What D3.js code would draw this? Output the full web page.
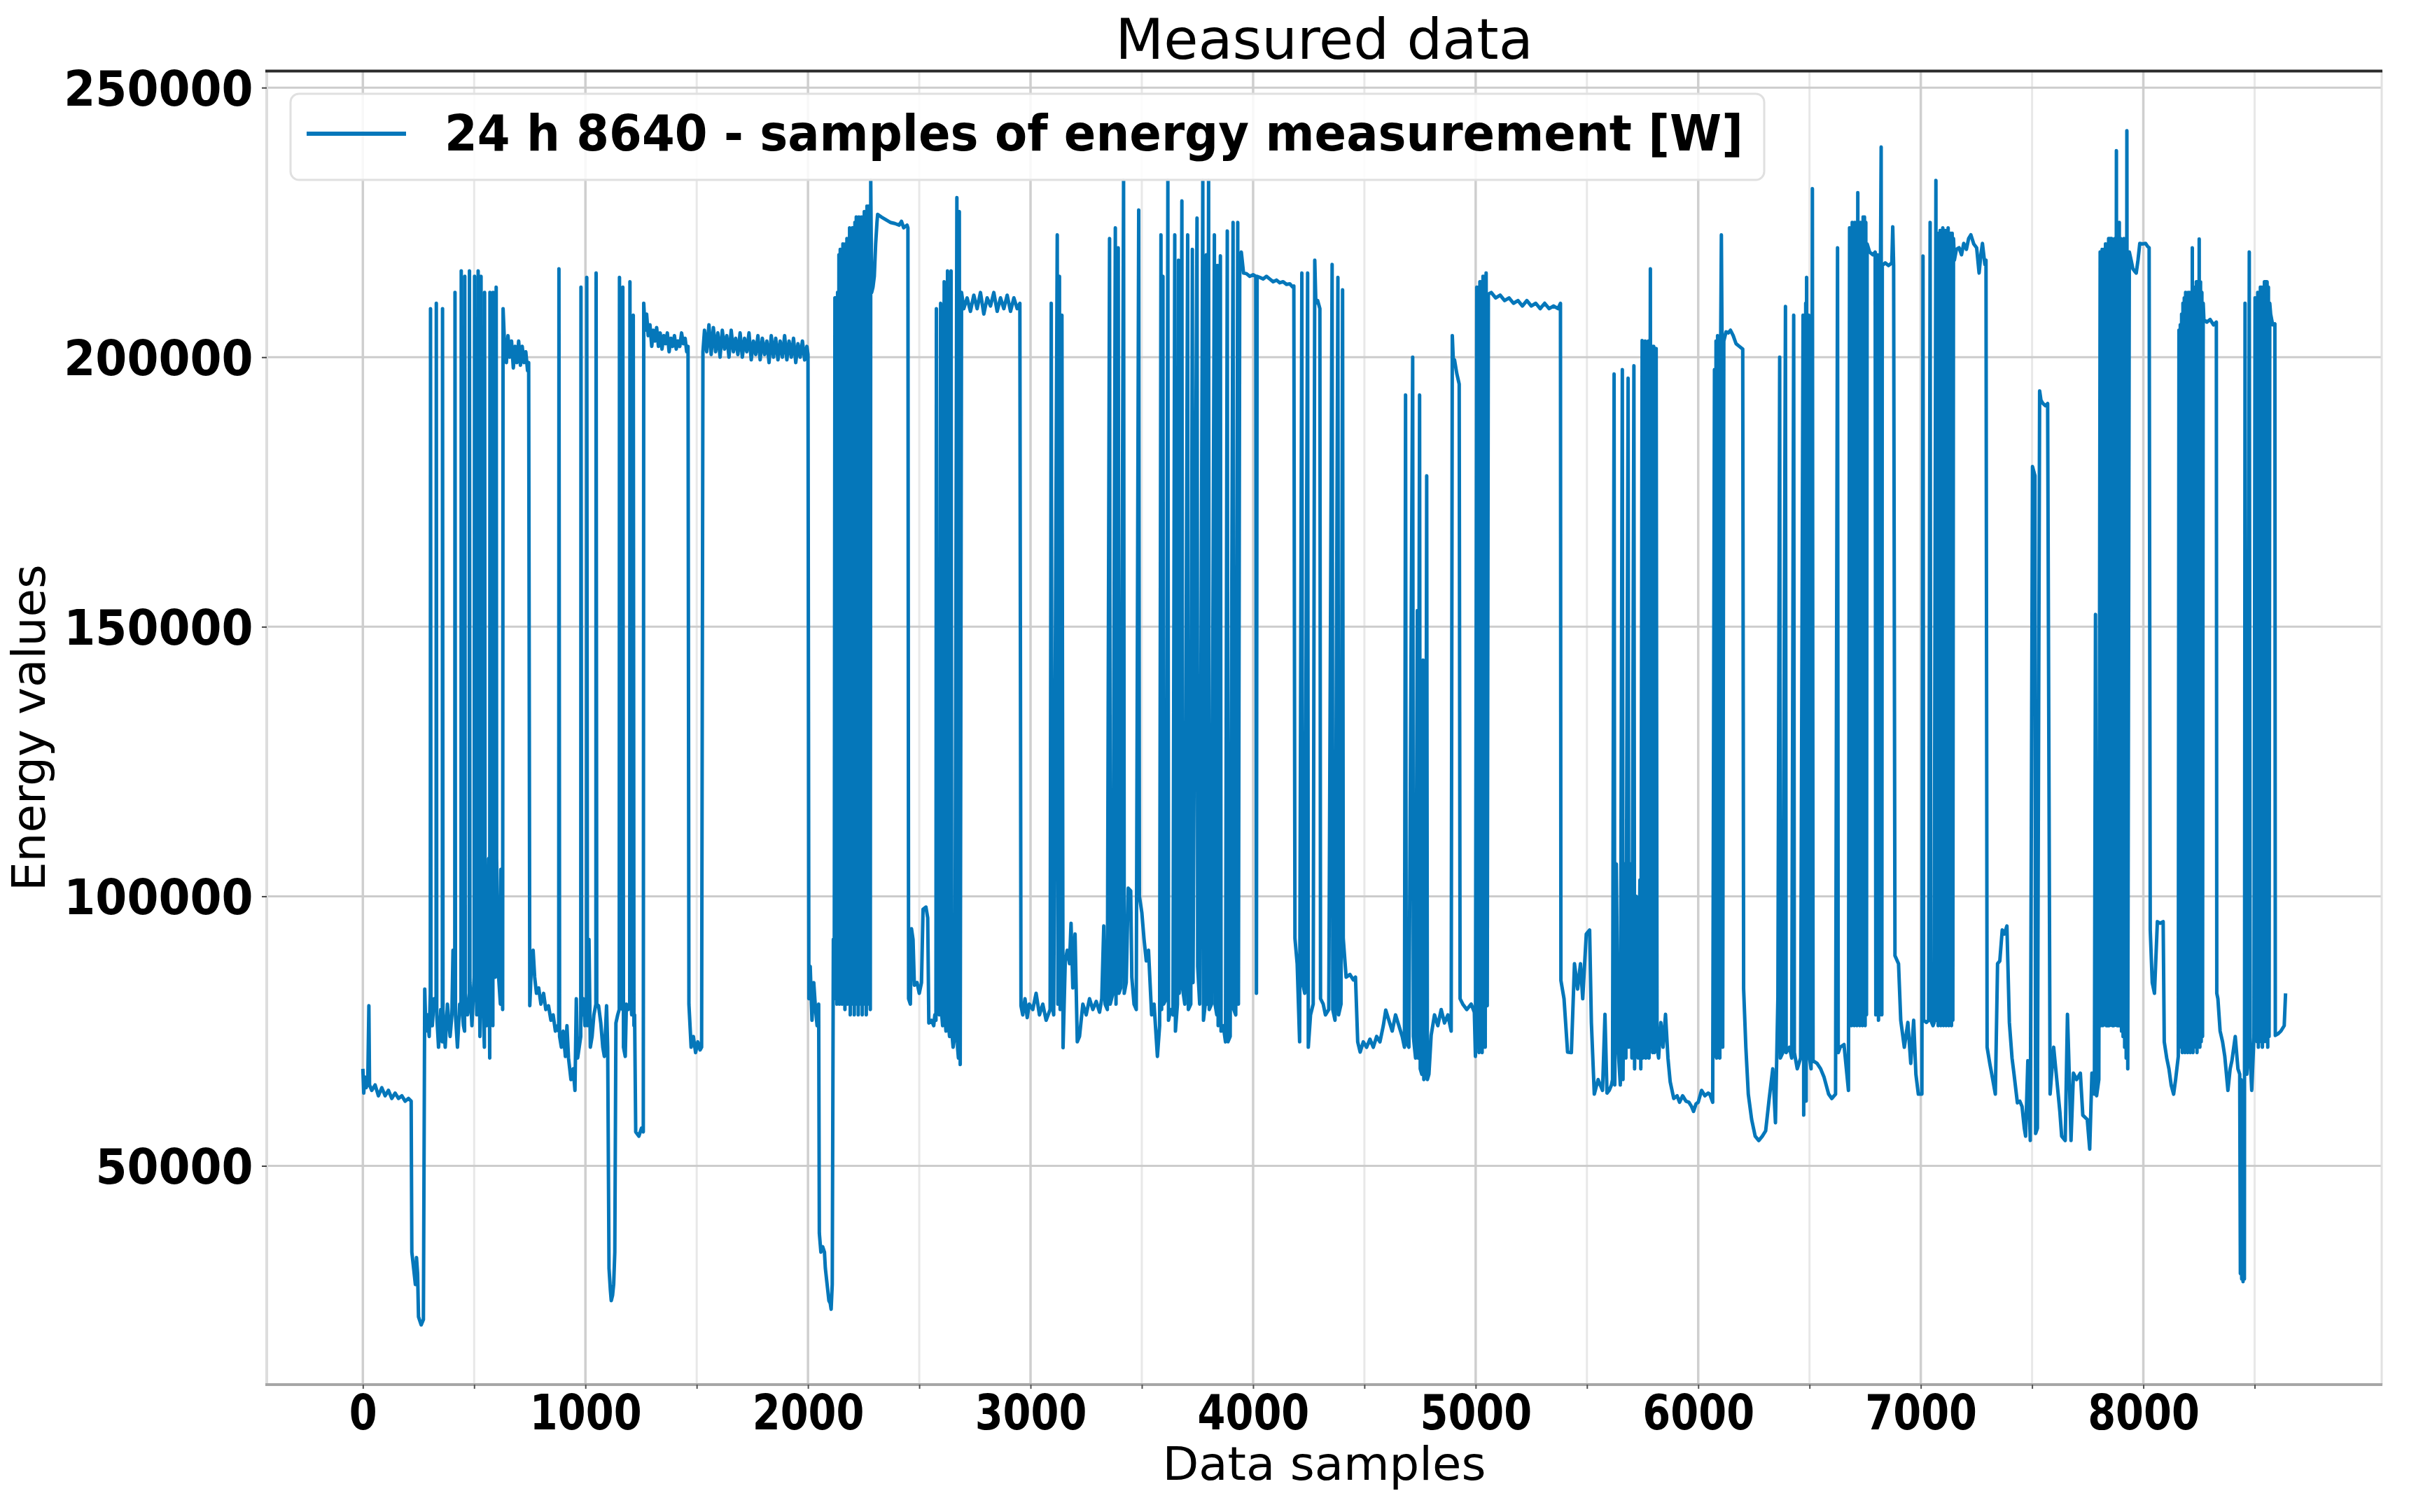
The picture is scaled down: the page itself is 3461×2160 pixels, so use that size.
<!DOCTYPE html>
<html>
<head>
<meta charset="utf-8">
<script src="https://cdn.jsdelivr.net/npm/d3@7"></script>
<style>
  html, body { margin: 0; padding: 0; background: #ffffff; }
  svg { display: block; }
  text { font-family: "DejaVu Sans", sans-serif; }
</style>
</head>
<body>
<svg id="chart" width="3461" height="2160"></svg>
<script>
// ---------------- DATA ----------------
const chartTitle = "Measured data";
const xAxisLabel = "Data samples";
const yAxisLabel = "Energy values";
const seriesName = "24 h 8640 - samples of energy measurement [W]";
const sampleCount = 8640;

const xTickValues = [0, 1000, 2000, 3000, 4000, 5000, 6000, 7000, 8000];
const xMinorValues = [500, 1500, 2500, 3500, 4500, 5500, 6500, 7500, 8500];
const yTickValues = [50000, 100000, 150000, 200000, 250000];

// [sample index, energy value in W]
const energySegment1 = [
[0,68000],[4,63500],[8,66500],[15,64500],[22,65500],[27,79700],[30,65000],[40,64000],[55,65000],[70,63000],[85,64500],[100,63000],[115,64000],[130,62500],[145,63500],[160,62500],[175,63000],[190,62000],[205,62500],[217,62000],
[220,34000],[228,31000],[236,28000],[241,33000],[246,30000],[250,22000],[262,20500],[272,21500],[278,82800],[283,75000],[290,78000],[298,74000],
[303,82000],[304,209000],[306,80000],[312,76000],[320,81000],[329,79000],[330,210000],[332,78000],[340,72000],[350,79000],[357,73000],[358,209000],[360,79000],[370,72000],[380,80000],[392,74000],[400,78000],[405,90000],[413,80000],[414,212000],[416,78000],[425,72000],[435,80000],[441,79000],[442,216000],[444,80000],[452,76000],[457,75000],[458,215000],[460,82000],[470,78000],[478,80000],[479,216000],[481,84000],[490,76000],[500,85000],[502,215000],[504,95000],[512,78000],[517,90000],[518,216000],[520,100000],[526,74000],[531,215000],[533,107000],[540,80000],[546,72000],[547,212000],[549,100000],[556,76000],[565,107000],[570,70000],[571,212000],[573,90000],[580,80000],[584,76000],[585,212000],[587,98000],[595,85000],[599,213000],[601,107000],[610,85000],[618,80000],[620,105000],[628,79000],[630,209000],
[636,203000],[645,199000],[652,204000],[660,200000],[668,203000],[676,198000],[684,202000],[692,199000],[700,203000],[708,198500],[716,202000],[724,199000],[732,201000],[740,197500],[745,199000]
];

const energySegment2 = [
[750,79700],[758,88000],[765,90000],[772,85000],[780,82000],[790,83000],[800,80000],[812,82000],[822,79000],[834,79700],[845,77000],[855,78000],[865,75000],[875,76000],[880,75000],[881,216400],[884,74000],[892,72000],[900,75000],[910,70300],[917,76000],[924,70000],[935,66000],[945,68000],[953,64000],[959,81000],[965,70000],[972,72000],[979,74000],[980,213000],[983,78000],[991,81000],[998,76000],[1005,78000],[1006,214800],[1009,76000],[1016,92000],[1022,72000],[1030,74000],[1038,78000],[1047,80000],[1048,215600],[1051,80000],[1059,79700],[1069,76500],[1078,72000],[1085,70300],[1095,79700],[1100,72000],
[1106,31000],[1112,27000],[1116,25000],[1122,26000],[1127,28100],[1132,34000],[1137,76500],[1145,78000],[1152,79000],[1153,214800],[1156,80000],[1163,81000],[1167,79000],[1168,213000],[1171,72000],[1179,70300],[1184,80000],[1192,79000],[1199,80000],[1200,214000],[1203,82000],[1208,78000],[1214,80000],[1215,207800],[1218,76000],[1221,78000],[1226,56300],[1240,55500],[1252,57000],[1260,56300],
[1262,210000],[1268,205000],[1275,208000],[1282,204000],[1290,206000],[1298,202000],[1305,205000],[1312,203000],[1320,205500],[1328,202000],[1336,204500],[1344,201500],[1352,204000],[1360,202500],[1368,204500],[1376,201000],[1384,203500],[1392,202000],[1400,204000],[1408,201500],[1416,203000],[1424,202000],[1432,204500],[1440,202500],[1448,203500],[1455,201000],[1461,202000],
[1465,80000],[1475,72000],[1485,74000],[1495,71000],[1505,73000],[1515,71500],[1522,72000]
];

const energySegment3 = [
[1528,201000],[1535,205000],[1545,201000],[1555,206000],[1565,200500],[1575,205500],[1585,201000],[1595,204500],[1605,200000],[1615,205000],[1625,201500],[1635,204000],[1645,200000],[1655,205000],[1665,201000],[1675,203500],[1685,200500],[1695,204500],[1705,200000],[1715,203500],[1725,201000],[1735,204500],[1745,199500],[1755,203000],[1765,200500],[1775,204000],[1785,199500],[1795,203500],[1805,200500],[1815,203000],[1825,199000],[1835,204000],[1845,200000],[1855,203500],[1865,199500],[1875,203000],[1885,200000],[1895,204000],[1905,199500],[1915,203000],[1925,200000],[1935,203500],[1945,199000],[1955,202500],[1965,200000],[1975,203000],[1985,199500],[1995,202000],[2000,200500],
[2004,81000],[2010,87000],[2018,77000],[2026,84000],[2034,79000],[2041,76000],[2048,80000],[2051,37500],[2058,34000],[2066,35000],[2074,34000],[2078,31000],[2086,28000],[2094,25000],[2100,24500],[2104,23400],[2109,28000],
[2114,92000],[2118,82000],[2121,211000],[2124,81000],[2127,211000],[2130,80000],[2133,212000],[2136,81000],[2139,219000],[2142,80000],[2145,220000],[2148,82000],[2151,219000],[2154,80000],[2157,221000],[2160,81000],[2163,220000],[2166,79000],[2169,221000],[2172,82000],[2175,222000],[2178,80000],[2181,221000],[2184,81000],[2187,224000],[2190,78000],[2193,223000],[2196,81000],[2199,224000],[2202,80000],[2205,224000],[2208,78000],[2211,225000],[2214,81000],[2217,226000],[2220,80000],[2223,225000],[2226,78000],[2229,226000],[2232,81000],[2235,225000],[2238,80000],[2241,226000],[2244,78000],[2247,225000],[2250,81000],[2253,227000],[2256,80000],[2259,226000],[2262,78000],[2265,228000],[2268,81000],[2271,228000],[2274,80000],[2277,227000],[2280,79000],[2282,232800],
[2286,212000],[2292,213000],[2298,215000],[2304,221000],[2310,225000],[2313,226500],[2330,226000],[2350,225500],[2370,225000],[2390,224800],[2410,224500],[2420,225200],[2430,224000],[2445,224500],[2449,224000]
];

const energySegment4 = [
[2452,81000],[2460,80000],[2465,94000],[2472,92000],[2478,83500],[2490,84000],[2500,82000],[2510,84000],[2517,97600],[2530,98000],[2538,96000],[2543,76500],[2555,77000],[2565,76000],[2570,78000],[2575,77000],[2577,209000],[2580,79000],[2585,80000],[2590,78000],[2596,210000],[2599,79000],[2605,76000],[2612,214000],[2615,78000],[2620,75000],[2627,216000],[2630,77000],[2636,74000],[2643,216000],[2646,75000],[2652,72000],[2660,74000],[2669,229600],[2672,72000],[2676,70000],[2680,227000],[2684,68800],
[2690,212000],[2700,209000],[2715,211000],[2730,208500],[2745,211500],[2760,209000],[2775,212000],[2790,208000],[2805,211000],[2820,209500],[2835,212000],[2850,208500],[2865,211000],[2880,209000],[2895,211500],[2910,208500],[2925,211000],[2940,209000],[2952,210000],
[2957,79700],[2965,78000],[2975,81000],[2985,77500],[2994,80000],[3010,79000],[3025,82000],[3040,78000],[3055,80000],[3070,77000],[3088,79000],[3093,210000],[3097,80000],[3104,78000],[3120,222700],[3123,80000],[3130,215000],[3133,79000],[3141,207800],[3146,71900],[3156,88000],[3165,90000],[3175,87500],[3182,95000],[3190,83000],[3200,93000],[3210,73000],[3220,74000],[3235,80000],[3250,78000],[3265,81000],[3280,79000],[3295,80500],[3310,78500],[3320,81000],[3329,94500],[3335,80000],[3345,79000],
[3355,222000],[3358,80000],[3370,82000],[3381,224000],[3384,80000],[3394,220300],[3397,82000],[3405,83000],[3418,232800],[3421,82000],[3430,84000],[3439,101500],[3450,101000],[3455,85000],[3465,80000],[3475,79000],[3486,227300],[3489,100000],[3500,97000],[3510,92000],[3520,88000],[3530,90000],[3544,78000],[3555,80000],[3570,70300],[3580,76000],
[3586,222700],[3589,79000],[3595,215000],[3598,80000],[3610,81000],[3617,232800],[3620,77000],[3630,79000],[3640,78000],[3648,222700],[3651,75000],[3660,80000],[3665,218000],[3668,82000],[3680,229000],[3683,83000],[3693,80000],[3706,222700],[3709,79000],[3720,80000],[3727,220000],[3730,84000],[3748,225800],[3751,87000],[3760,80000],[3774,232800],[3777,77000],[3785,80000],[3790,219000],[3793,80000],[3800,232800],[3803,79000],[3813,80000],[3826,222700],[3829,80000],[3837,78000],[3840,217000],[3843,76000],[3853,218800],[3856,75000],[3866,76000],[3876,73000],[3884,223400],[3887,73000],[3897,74000],[3910,225000],[3913,79000],[3922,78000],[3931,225000],[3934,80000]
];

const energySegment5 = [
[3940,218000],[3947,219500],[3957,215600],[3970,215500],[3985,215000],[4000,215300],[4012,215000],[4015,82000],[4018,215000],[4030,214800],[4045,214500],[4060,215000],[4075,214500],[4090,214000],[4105,214300],[4120,213800],[4135,214000],[4150,213500],[4165,213600],[4178,213000],[4183,213200],
[4188,92200],[4198,87500],[4209,73000],[4219,215600],[4222,84000],[4232,82000],[4245,215600],[4248,72000],[4258,78000],[4270,80000],[4277,218000],[4282,210000],[4290,210500],[4300,209000],[4303,81000],[4315,80000],[4325,78000],[4340,79000],[4355,217200],[4358,79000],[4368,77000],[4381,214800],[4384,78000],[4395,80000],[4402,212500],[4405,92200],[4418,85000],[4435,85500],[4450,84500],[4460,85000],[4470,73000],[4481,71100],[4495,73000],[4510,72000],[4525,73500],[4540,72000],[4555,74000],[4570,73000],[4585,76000],[4596,78900],
[4610,77000],[4625,75000],[4640,78000],[4655,76000],[4670,74000],[4680,72000],[4685,193000],[4688,73000],[4700,72000],[4717,200000],[4720,74000],[4730,70000],[4738,153000],[4741,70000],[4748,193000],[4751,68000],[4758,67000],[4764,143800],[4767,66000],[4775,68000],[4780,178000],[4783,66000],[4790,67000],[4800,74200],[4815,78000],[4830,76000],[4845,79000],[4860,76500],[4875,78000],[4890,75000],[4895,204000],[4900,199000],[4905,199500],[4915,197000],[4926,195000],[4930,81000],[4942,80000],[4960,79000],[4980,80000],[4994,78500],
[4999,70300],[5005,213000],[5008,72000],[5012,213000],[5015,71000],[5019,214000],[5022,72000],[5026,214000],[5029,71000],[5033,215000],[5036,72000],[5040,215000],[5043,72000],[5047,215600],[5052,79700],[5057,211700],[5070,212000],[5090,211000],[5110,211500],[5130,210500],[5150,211000],[5170,210000],[5190,210500],[5210,209500],[5230,210500],[5250,209500],[5270,210000],[5290,209000],[5310,210000],[5330,209000],[5350,209500],[5370,209000],[5381,210000]
];

const energySegment6 = [
[5383,84400],[5397,81000],[5413,71100],[5430,71000],[5444,87500],[5458,82800],[5471,87500],[5481,81000],[5497,93000],[5512,93750],[5520,76500],[5533,63300],[5550,66000],[5570,64000],[5581,78100],[5590,63500],[5600,64000],[5610,65000],[5615,66000],
[5622,196900],[5625,65000],[5632,106000],[5640,72000],[5650,65000],[5659,197700],[5662,66000],[5670,106000],[5675,70000],[5685,196100],[5688,72000],[5696,106000],[5702,70000],[5711,198400],[5714,68000],[5722,100000],[5730,70000],[5738,103000],[5742,68000],[5748,203100],[5751,70000],[5755,202000],[5758,71000],[5762,203000],[5765,70000],[5769,202000],[5772,71000],[5776,203000],[5779,70000],[5785,216400],[5788,72000],[5792,202000],[5795,71000],[5800,202000],[5803,71000],[5807,201600],[5811,201600],[5815,72000],[5822,70000],
[5832,76600],[5842,72000],[5853,78100],[5864,70000],[5874,65600],[5890,62500],[5905,63000],[5916,61800],[5930,63000],[5945,62000],[5958,61800],[5970,61000],[5979,60100],[5990,61500],[6000,61800],[6015,64000],[6030,63000],[6045,63500],[6052,63300],[6065,61800],
[6073,197700],[6076,70300],[6080,203000],[6083,70000],[6087,204000],[6090,71000],[6094,203000],[6097,70000],[6101,204000],[6104,222700],[6107,203000],[6110,72000],[6115,203000],[6125,204700],[6135,204500],[6145,205000],[6157,204000],[6170,202500],[6185,202000],[6200,201500],
[6204,82800],[6214,72000],[6225,63300],[6240,58600],[6256,55500],[6272,54700],[6288,55500],[6303,56500],[6319,62500],[6335,68000],[6347,58000],[6358,81300],
[6366,200000],[6369,70000],[6380,71000],[6392,209400],[6395,71000],[6410,72000],[6420,70000],[6429,207800],[6432,71000],[6445,68000],[6460,70000],[6471,207800],[6474,59400],[6476,205000],[6479,70000],[6483,210000],[6485,62000],[6487,214800],[6490,70000],[6497,207800],[6500,70000],[6507,68000],[6513,231250],[6516,69500],[6534,69000],[6550,68000],[6565,66500],[6586,63300],[6600,62500],[6617,63300],[6626,220300],[6629,71000],[6638,72000],[6655,72500],[6675,64000],
[6680,224000],[6683,77000],[6686,224000],[6689,76000],[6692,225000],[6695,77000],[6698,224000],[6701,76000],[6704,225000],[6707,77000],[6710,224000],[6713,76000],[6717,230500],[6720,77000],[6723,225000],[6726,76000],[6729,225000],[6732,77000],[6735,224000],[6738,76000],[6741,226000],[6744,77000],[6747,226000],[6750,76000],[6753,225000],[6756,78000],[6759,221000],[6770,219500],[6785,219000],[6795,219500],
[6798,78000],[6801,219000],[6804,78000],[6807,219000],[6810,77000],[6813,218000],[6816,78000],[6819,218000],[6822,239000],[6825,78000],[6827,217000],[6840,217500],[6855,217000],[6870,217500],[6874,224200],[6878,217000]
];

const energySegment7 = [
[6884,89000],[6900,87500],[6910,77000],[6926,72000],[6942,76600],[6955,69000],[6968,77000],[6978,67000],[6989,63300],[7005,63300],[7010,218750],[7013,77000],[7025,76600],[7035,77000],[7042,225000],[7045,77000],[7055,76000],[7060,76600],
[7068,232800],[7071,77000],[7075,223000],[7078,76000],[7081,223000],[7084,77000],[7087,223500],[7090,76000],[7093,223000],[7096,77000],[7099,224000],[7102,76000],[7105,223000],[7108,77000],[7111,223500],[7114,76000],[7117,223000],[7120,77000],[7123,224000],[7126,76000],[7129,223000],[7132,77000],[7135,223000],[7138,76000],[7141,223000],[7144,77000],[7147,222000],
[7151,218000],[7160,220000],[7172,220300],[7183,219000],[7193,221100],[7205,220000],[7215,222000],[7225,222700],[7238,221000],[7251,220300],[7262,215600],[7270,219000],[7277,221100],[7288,217200],[7293,218000],
[7298,72000],[7310,69000],[7319,67000],[7335,63300],[7345,87500],[7355,88000],[7366,93750],[7376,93000],[7387,94500],[7398,76600],[7410,70000],[7419,67000],[7434,61700],[7445,62000],[7455,61000],[7465,57000],[7471,55500],[7481,69500],[7492,54700],
[7502,179700],[7513,178000],[7516,56000],[7524,57000],[7534,193750],[7540,192000],[7549,191400],[7560,191000],[7570,191400],[7581,63300],[7597,72000],[7612,65600],[7625,60000],[7633,55500],[7649,54700],[7659,78100],[7665,70000],[7675,54700],[7686,67200],[7700,66000],[7717,67200],[7728,59400],[7748,58600],[7759,53100],[7769,67200],[7780,63300],
[7785,152300],[7790,63000],[7800,66000],[7806,219500],[7810,76000],[7815,220000],[7818,76000],[7822,220000],[7825,77000],[7830,221000],[7833,76000],[7837,221000],[7840,76000],[7844,222000],[7847,76000],[7851,222000],[7854,77000],[7858,222000],[7861,76000],[7865,221000],[7868,76000],[7872,222000],[7875,77000],[7879,238300],[7882,76000],[7886,222000],[7889,76000],[7892,225000],[7895,76000],[7899,222000],[7902,75000],[7906,221000],[7909,74000],[7913,222000],[7916,72000],[7920,221000],[7923,70000],[7926,242000],[7930,68000],
[7937,219500],[7945,218000],[7953,216400],[7960,216000],[7968,215600],[7976,218000],[7984,221100],[7995,221000],[8010,221100],[8020,220500],[8026,220300],
[8031,93750],[8040,84000],[8050,82000],[8063,95300],[8075,95000],[8089,95300],[8094,73000],[8105,70000],[8115,68000],[8125,65000],[8136,63300],[8145,66000],[8157,70300],
[8160,205000],[8163,72000],[8166,206000],[8169,72000],[8172,208000],[8175,71000],[8178,210000],[8181,72000],[8184,211000],[8187,71000],[8190,212000],[8193,72000],[8196,211000],[8199,71000],[8202,212000],[8205,72000],[8208,212000],[8211,71000],[8214,212000],[8217,72000],[8220,220300],[8223,71000],[8226,213000],[8229,72000],[8232,213000],[8235,72000],[8238,214000],[8241,71000],[8244,214000],[8247,72000],[8251,221900],[8254,72000],[8257,214000],[8260,73000],[8263,212000],[8266,74000],[8269,210000],[8272,207000],[8285,206500],[8300,207000],[8315,206000],[8328,206500],
[8330,82000],[8335,81000],[8345,75000],[8356,73000],[8366,70300],[8380,64000],[8390,68000],[8398,69500],[8413,74000],[8425,68000],[8433,67000],[8436,30000],[8439,66000],[8442,29000],[8445,65000],[8448,28500],[8451,64000],[8454,29000],[8457,210000],[8460,70000],[8465,67000],[8470,71000],[8476,219500],[8480,70000],[8487,64000],[8497,74000],
[8502,211000],[8505,74000],[8508,211000],[8511,73000],[8514,212000],[8517,72000],[8520,212000],[8523,74000],[8526,213000],[8529,73000],[8532,213000],[8535,72000],[8538,213000],[8541,73000],[8544,214000],[8547,74000],[8550,214000],[8553,73000],[8556,214000],[8559,72000],[8562,213000],[8565,74000],[8568,210000],[8572,208000],[8581,206000],[8591,206200],
[8593,74200],[8605,74500],[8618,75000],[8633,76000],[8639,82000]
];

const energySeries = [].concat(energySegment1, energySegment2, energySegment3, energySegment4,
                               energySegment5, energySegment6, energySegment7);

// ---------------- LAYOUT ----------------
const W = 3461, H = 2160;
const plot = { left: 381, right: 3402, top: 101.5, bottom: 1978 };
const lineColor = "#0577ba";

const svg = d3.select("#chart");

// Scales (matplotlib style 5% margins)
const xMin = 0, xMax = sampleCount - 1;
const xPad = 0.05 * (xMax - xMin);
const x = d3.scaleLinear().domain([xMin - xPad, xMax + xPad]).range([plot.left, plot.right]);

const yExt = d3.extent(energySeries, d => d[1]);
const yPad = 0.05 * (yExt[1] - yExt[0]);
const y = d3.scaleLinear().domain([yExt[0] - yPad, yExt[1] + yPad]).range([plot.bottom, plot.top]);

// Background
svg.append("rect").attr("width", W).attr("height", H).attr("fill", "#ffffff");

// Grid
const grid = svg.append("g");
grid.selectAll("line.minor").data(xMinorValues).enter().append("line")
  .attr("x1", d => x(d)).attr("x2", d => x(d))
  .attr("y1", plot.top).attr("y2", plot.bottom)
  .attr("stroke", "#e8e8e8").attr("stroke-width", 3);
grid.selectAll("line.majorx").data(xTickValues).enter().append("line")
  .attr("x1", d => x(d)).attr("x2", d => x(d))
  .attr("y1", plot.top).attr("y2", plot.bottom)
  .attr("stroke", "#cfcfcf").attr("stroke-width", 3.5);
grid.selectAll("line.majory").data(yTickValues).enter().append("line")
  .attr("x1", plot.left).attr("x2", plot.right)
  .attr("y1", d => y(d)).attr("y2", d => y(d))
  .attr("stroke", "#cccccc").attr("stroke-width", 3);

// Clip
svg.append("defs").append("clipPath").attr("id", "clip")
  .append("rect").attr("x", plot.left).attr("y", plot.top)
  .attr("width", plot.right - plot.left).attr("height", plot.bottom - plot.top);

// Data line
const line = d3.line().x(d => x(d[0])).y(d => y(d[1]));
svg.append("path")
  .datum(energySeries)
  .attr("clip-path", "url(#clip)")
  .attr("d", line)
  .attr("fill", "none")
  .attr("stroke", lineColor)
  .attr("stroke-width", 5)
  .attr("stroke-linejoin", "round");

// Spines
svg.append("line").attr("x1", plot.left).attr("x2", plot.left).attr("y1", plot.top).attr("y2", plot.bottom)
  .attr("stroke", "#dddddd").attr("stroke-width", 4);
svg.append("line").attr("x1", plot.right).attr("x2", plot.right).attr("y1", plot.top).attr("y2", plot.bottom)
  .attr("stroke", "#e2e2e2").attr("stroke-width", 3);
svg.append("line").attr("x1", plot.left - 2).attr("x2", plot.right + 1).attr("y1", plot.bottom).attr("y2", plot.bottom)
  .attr("stroke", "#a6a6a6").attr("stroke-width", 4);
svg.append("line").attr("x1", plot.left - 2).attr("x2", plot.right + 1).attr("y1", plot.top).attr("y2", plot.top)
  .attr("stroke", "#2a2a2a").attr("stroke-width", 4);

// X axis
const xAxis = d3.axisBottom(x).tickValues(xTickValues).tickSize(6).tickFormat(d3.format("d"));
const gx = svg.append("g").attr("transform", `translate(0,${plot.bottom})`).call(xAxis);
gx.select(".domain").remove();
gx.selectAll(".tick line").attr("stroke", "#555").attr("stroke-width", 2);
gx.selectAll(".tick text")
  .attr("y", 64).attr("dy", 0)
  .attr("fill", "#000")
  .style("font-family", "'DejaVu Sans', sans-serif")
  .style("font-size", "70px").style("font-weight", "bold")
  .attr("transform", "scale(0.82,1)");
const xMinorAxis = d3.axisBottom(x).tickValues(xMinorValues).tickSize(6).tickFormat("");
const gxm = svg.append("g").attr("transform", `translate(0,${plot.bottom})`).call(xMinorAxis);
gxm.select(".domain").remove();
gxm.selectAll(".tick line").attr("stroke", "#555").attr("stroke-width", 2);

// Y axis
const yAxis = d3.axisLeft(y).tickValues(yTickValues).tickSize(7).tickFormat(d3.format("d"));
const gy = svg.append("g").attr("transform", `translate(${plot.left},0)`).call(yAxis);
gy.select(".domain").remove();
gy.selectAll(".tick line").attr("stroke", "#444").attr("stroke-width", 2);
gy.selectAll(".tick text")
  .attr("x", -21).attr("dy", "0.36em")
  .attr("fill", "#000")
  .style("font-family", "'DejaVu Sans', sans-serif")
  .style("font-size", "70px").style("font-weight", "bold")
  .attr("transform", "scale(0.925,1)");

// Title
svg.append("text").attr("x", (plot.left + plot.right) / 2).attr("y", 84)
  .attr("text-anchor", "middle").style("font-size", "80px").attr("fill", "#000")
  .text(chartTitle);

// Axis labels
svg.append("text").attr("x", (plot.left + plot.right) / 2).attr("y", 2114)
  .attr("text-anchor", "middle").style("font-size", "66px").attr("fill", "#000")
  .attr("textLength", 462).attr("lengthAdjust", "spacingAndGlyphs")
  .text(xAxisLabel);
svg.append("text")
  .attr("transform", `translate(64,${(plot.top + plot.bottom) / 2}) rotate(-90)`)
  .attr("text-anchor", "middle").style("font-size", "66px").attr("fill", "#000")
  .text(yAxisLabel);

// Legend
const lg = svg.append("g");
lg.append("rect").attr("x", 415).attr("y", 134).attr("width", 2105).attr("height", 123)
  .attr("rx", 12).attr("ry", 12)
  .attr("fill", "#ffffff").attr("fill-opacity", 0.85)
  .attr("stroke", "#e0e0e0").attr("stroke-width", 3);
lg.append("line").attr("x1", 438).attr("x2", 580).attr("y1", 191).attr("y2", 191)
  .attr("stroke", lineColor).attr("stroke-width", 6);
lg.append("text").attr("x", 635).attr("y", 215)
  .style("font-size", "71px").style("font-weight", "bold").attr("fill", "#000")
  .attr("textLength", 1855).attr("lengthAdjust", "spacingAndGlyphs")
  .text(seriesName);
</script>
</body>
</html>
